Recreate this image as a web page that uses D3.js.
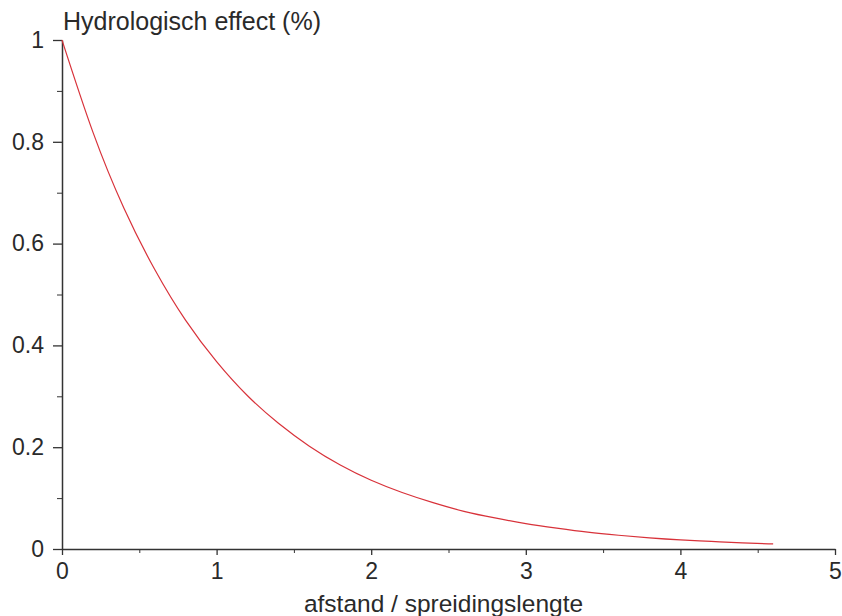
<!DOCTYPE html>
<html>
<head>
<meta charset="utf-8">
<script src="https://cdn.jsdelivr.net/npm/d3@7"></script>
<style>
  body { margin: 0; background: #fff; }
  text { font-family: "Liberation Sans", Arial, sans-serif; fill: #2a2a2a; }
</style>
</head>
<body>
<div id="chart"></div>
<script>
// values
var distance = [0, 0.2, 0.4, 0.6, 0.8, 1.0, 1.2, 1.4, 1.6, 1.8, 2.0, 2.2, 2.4,
                2.6, 2.8, 3.0, 3.2, 3.4, 3.6, 3.8, 4.0, 4.2, 4.4, 4.6];
var effect = [1.0, 0.819, 0.670, 0.549, 0.449, 0.368, 0.301, 0.247, 0.202, 0.165, 0.135, 0.111, 0.091,
              0.074, 0.061, 0.050, 0.041, 0.033, 0.027, 0.022, 0.018, 0.015, 0.012, 0.010];
var xTicks = [0, 1, 2, 3, 4, 5];
var xMinor = [0.5, 1.5, 2.5, 3.5, 4.5];
var yTicks = [0, 0.2, 0.4, 0.6, 0.8, 1];
var yMinor = [0.1, 0.3, 0.5, 0.7, 0.9];

var margin = {top: 40, right: 7, bottom: 67, left: 62};
var width = 842 - margin.left - margin.right;
var height = 616 - margin.top - margin.bottom;

var svg = d3.select("#chart")
    .append("svg")
    .attr("width", 842)
    .attr("height", 616)
    .append("g")
    .attr("transform", "translate(" + margin.left + "," + margin.top + ")");

var x = d3.scaleLinear().domain([0, 5]).range([0, width]);
var y = d3.scaleLinear().domain([0, 1]).range([height, 0]);

// minor ticks
svg.append("g")
    .attr("transform", "translate(0," + height + ")")
    .call(d3.axisBottom(x).tickValues(xMinor).tickSize(4).tickFormat(""))
    .call(function (g) { g.select(".domain").remove(); });
svg.append("g")
    .call(d3.axisLeft(y).tickValues(yMinor).tickSize(5).tickFormat(""))
    .call(function (g) { g.select(".domain").remove(); });

// X axis
svg.append("g")
    .attr("transform", "translate(0," + height + ")")
    .call(d3.axisBottom(x).tickValues(xTicks).tickSize(6).tickSizeOuter(0).tickPadding(8)
        .tickFormat(d3.format("")))
    .call(function (g) {
        g.selectAll("text").style("font-size", "23px");
        g.select(".domain").attr("stroke", "#333").attr("stroke-width", 1.5);
        g.selectAll(".tick line").attr("stroke-width", 1.3);
    });

// Y axis
svg.append("g")
    .call(d3.axisLeft(y).tickValues(yTicks).tickSize(9).tickSizeOuter(0).tickPadding(9)
        .tickFormat(d3.format("")))
    .call(function (g) {
        g.selectAll("text").style("font-size", "23px");
        g.select(".domain").attr("stroke", "#333").attr("stroke-width", 1.5);
        g.selectAll(".tick line").attr("stroke-width", 1.3);
    });

svg.selectAll(".tick line").attr("stroke", "#333");

// curve
var line = d3.line()
    .x(function (d, i) { return x(distance[i]); })
    .y(function (d) { return y(d); })
    .curve(d3.curveNatural);

svg.append("path")
    .datum(effect)
    .attr("fill", "none")
    .attr("stroke", "#d8323a")
    .attr("stroke-width", 1.2)
    .attr("d", line);

// Y label
svg.append("text")
    .attr("x", 1)
    .attr("y", -10)
    .style("font-size", "25px")
    .text("Hydrologisch effect (%)");

// X label
svg.append("text")
    .attr("x", width / 2 - 5)
    .attr("y", height + 63)
    .attr("text-anchor", "middle")
    .style("font-size", "24.5px")
    .text("afstand / spreidingslengte");
</script>
</body>
</html>
